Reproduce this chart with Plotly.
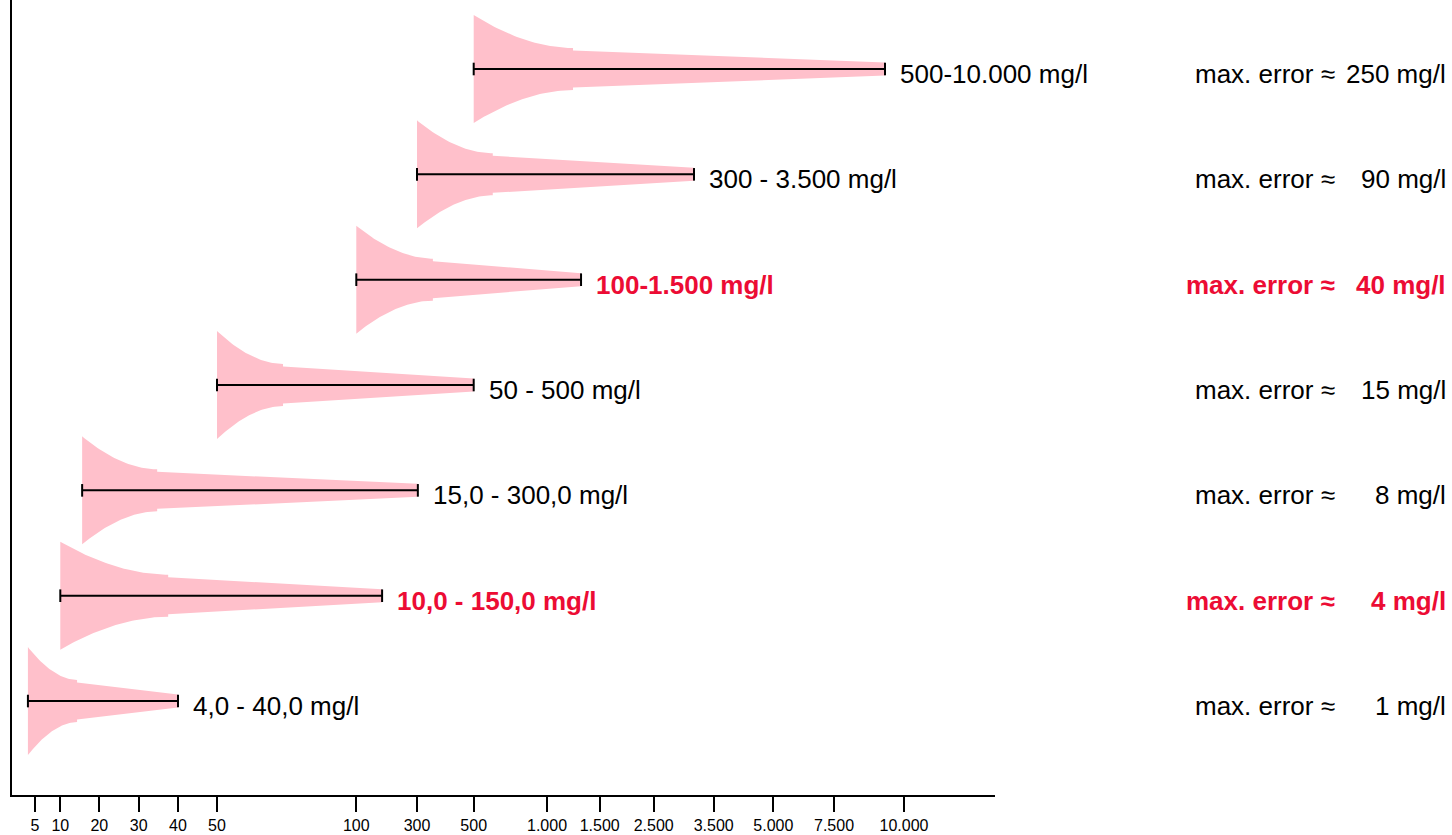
import numpy as np
import plotly.graph_objects as go

# ---------------- data ----------------
# axis tick labels (mg/l) and the non-uniform scale used by the original axis
tick_values = [5, 10, 20, 30, 40, 50, 100, 300, 500, 1000, 1500, 2500, 3500, 5000, 7500, 10000]
tick_labels = ["5", "10", "20", "30", "40", "50", "100", "300", "500", "1.000", "1.500",
               "2.500", "3.500", "5.000", "7.500", "10.000"]
scale_pos = [35, 60.3, 99.3, 138.7, 178, 217, 356.3, 417, 473.7, 547, 599.7, 653.7,
             713.7, 773.3, 834, 904]

# measuring ranges, bottom to top
range_labels = ["4,0 - 40,0 mg/l", "10,0 - 150,0 mg/l", "15,0 - 300,0 mg/l", "50 - 500 mg/l",
                "100-1.500 mg/l", "300 - 3.500 mg/l", "500-10.000 mg/l"]
range_low = [3.6, 10, 15.6, 50, 100, 300, 500]
range_high = [40, 185, 303, 500, 1323, 3172, 9321]
range_knee = [14.3, 37.5, 34.7, 73.7, 356, 630, 1247]     # where the error flare ends
max_error = ["1 mg/l", "4 mg/l", "8 mg/l", "15 mg/l", "40 mg/l", "90 mg/l", "250 mg/l"]
highlight = [False, True, False, False, True, False, False]

# ---------------- style ----------------
W, H = 1452, 835
ML, MR, MT, MB = 12, 457, 0, 40
X0, X1 = 12, 995
Y0, Y1 = 0.108, 7.655
PINK = "#FFC0CB"
RED = "#EC0C34"
FONT = "Arial, Liberation Sans, sans-serif"
PX_PER_Y = (H - MT - MB) / (Y1 - Y0)

# flare half-heights in pixels
H_START, H_KNEE, H_STEP, H_END = 54, 21, 18.5, 6.5


def to_axis(v):
    v = np.atleast_1d(np.asarray(v, dtype=float))
    out = np.interp(v, tick_values, scale_pos)
    slope0 = (scale_pos[1] - scale_pos[0]) / (tick_values[1] - tick_values[0])
    below = v < tick_values[0]
    out[below] = scale_pos[0] + (v[below] - tick_values[0]) * slope0
    return out


def paper_x(px):
    return (px - ML) / (W - ML - MR)


fig = go.Figure()

for i in range(len(range_labels)):
    yc = i + 1
    xl, xk, xh = to_axis([range_low[i], range_knee[i], range_high[i]])
    s = np.linspace(0, 1, 40)
    xs_curve = xl + s * (xk - xl)
    hs_curve = H_KNEE + (H_START - H_KNEE) * (1 - s) ** 1.9
    xs_up = np.concatenate([[xl], xs_curve, [xk, xh]])
    hs_up = np.concatenate([[0], hs_curve, [H_STEP, H_END]]) / PX_PER_Y
    xs_poly = np.concatenate([xs_up, xs_up[::-1]])
    ys_poly = np.concatenate([yc + hs_up, (yc - hs_up)[::-1]])
    fig.add_trace(go.Scatter(x=xs_poly, y=ys_poly, mode="lines", fill="toself",
                             fillcolor=PINK, line=dict(width=0), hoverinfo="skip",
                             showlegend=False))
    # range bar
    fig.add_trace(go.Scatter(x=[xl, xh], y=[yc, yc], mode="lines+markers",
                             line=dict(color="black", width=2),
                             marker=dict(symbol="line-ns", size=9,
                                         line=dict(color="black", width=2)),
                             hoverinfo="skip", showlegend=False))
    col = RED if highlight[i] else "black"
    txt_l = f"<b>{range_labels[i]}</b>" if highlight[i] else range_labels[i]
    fig.add_annotation(x=xh, y=yc, xref="x", yref="y", text=txt_l, showarrow=False,
                       xanchor="left", yanchor="middle", xshift=13, yshift=-5,
                       font=dict(family=FONT, size=26, color=col))
    part1 = "<b>max. error ≈</b>" if highlight[i] else "max. error ≈"
    part2 = f"<b>{max_error[i]}</b>" if highlight[i] else max_error[i]
    fig.add_annotation(x=paper_x(1337), y=yc, xref="paper", yref="y", text=part1,
                       showarrow=False, xanchor="right", yanchor="middle", yshift=-5,
                       font=dict(family=FONT, size=26, color=col))
    fig.add_annotation(x=paper_x(1448), y=yc, xref="paper", yref="y", text=part2,
                       showarrow=False, xanchor="right", yanchor="middle", yshift=-5,
                       font=dict(family=FONT, size=26, color=col))

fig.update_layout(
    width=W, height=H,
    margin=dict(l=ML, r=MR, t=MT, b=MB),
    paper_bgcolor="white", plot_bgcolor="white",
    xaxis=dict(range=[X0, X1], showgrid=False, zeroline=False, showline=True,
               linecolor="black", linewidth=2, ticks="outside", ticklen=15,
               tickwidth=2, tickcolor="black", tickvals=list(to_axis(tick_values)),
               ticktext=tick_labels, tickfont=dict(family=FONT, size=16, color="black")),
    yaxis=dict(range=[Y0, Y1], showgrid=False, zeroline=False, showline=True,
               linecolor="black", linewidth=2, showticklabels=False, ticks=""),
)

fig.write_html("out.html", config={"displayModeBar": False},
               post_script="document.body.style.margin='0';document.body.style.overflow='hidden';")
